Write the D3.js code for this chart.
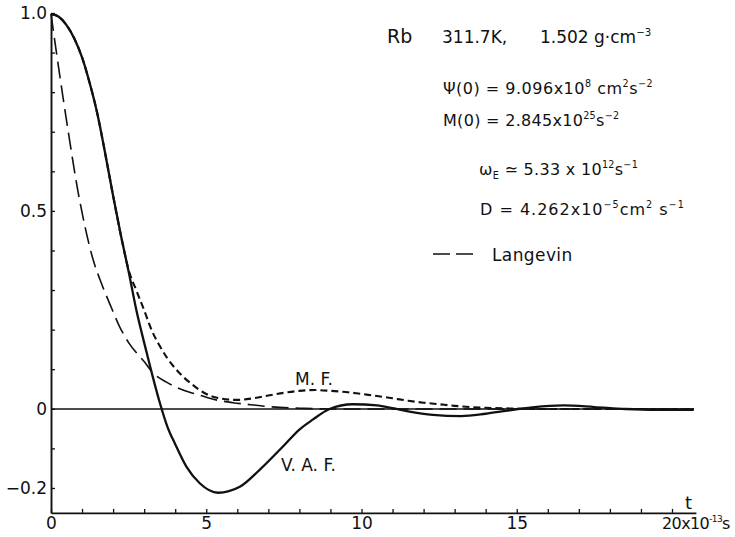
<!DOCTYPE html>
<html>
<head>
<meta charset="utf-8">
<script src="https://cdn.jsdelivr.net/npm/d3@7"></script>
<style>
  html, body { margin: 0; padding: 0; background: #fff; }
  svg { display: block; }
  text { font-family: "DejaVu Sans", sans-serif; fill: #111; }
</style>
</head>
<body>
<svg id="chart" width="735" height="537"></svg>
<script>
// Velocity autocorrelation function (V.A.F.) of liquid Rb, time in 10^-13 s
const tVaf = [0, 0.25, 0.5, 0.75, 1.0, 1.25, 1.5, 1.75, 2.0, 2.25, 2.5, 2.75, 3.0, 3.25, 3.5, 3.75, 4.0,
              4.36, 4.79, 5.38, 6.08, 6.72, 7.47, 8.0, 8.43, 8.97, 9.72, 10.5, 11.0, 11.5, 12.3, 13.2,
              14.0, 14.7, 15.5, 16.5, 17.5, 18.5, 19.5, 20.7];
const vaf  = [1.0, 0.993, 0.972, 0.938, 0.89, 0.824, 0.745, 0.645, 0.54, 0.44, 0.348, 0.25, 0.168, 0.09, 0.017, -0.045, -0.089,
              -0.146, -0.188, -0.212, -0.197, -0.154, -0.095, -0.052, -0.027, 0.0, 0.012, 0.009, 0.002, -0.006, -0.015, -0.018,
              -0.012, -0.004, 0.004, 0.009, 0.005, 0.0, -0.002, -0.002];

// Memory function (M.F.)
const tMf = [0, 0.25, 0.5, 0.75, 1.0, 1.25, 1.5, 1.75, 2.0, 2.25, 2.5, 2.75, 3.0, 3.25, 3.5, 3.75, 4.0, 4.25, 4.5,
             5.0, 5.5, 6.0, 6.5, 7.0, 7.5, 8.0, 8.5, 9.0, 9.5, 10.0, 10.5, 11.0, 11.5, 12.0, 12.5, 13.0, 13.5,
             14.0, 15.0, 16.0, 18.0, 20.7];
const mf  = [1.0, 0.993, 0.972, 0.938, 0.89, 0.824, 0.745, 0.645, 0.54, 0.44, 0.352, 0.30, 0.25, 0.198, 0.16, 0.128, 0.103, 0.082, 0.065,
             0.038, 0.026, 0.023, 0.027, 0.034, 0.041, 0.046, 0.048, 0.046, 0.043, 0.038, 0.033, 0.027, 0.021, 0.016, 0.012, 0.008, 0.005,
             0.003, 0.001, 0.0, 0.0, 0.0];

// Langevin (exponential) model
const tLang = [0, 0.29, 0.56, 0.88, 1.1, 1.36, 1.58, 1.9, 2.2, 2.5, 3.0, 3.3, 3.72, 4.25, 4.79, 5.11, 5.86, 6.3, 7.36, 8.0, 9.0, 20.7];
const lang  = [1.0, 0.84, 0.70, 0.546, 0.46, 0.377, 0.327, 0.265, 0.21, 0.168, 0.12, 0.09, 0.068, 0.048, 0.035, 0.027, 0.016, 0.012, 0.004, 0.002, 0.0, 0.0];

// Axis ticks and labels
const xTicks = d3.range(0, 21);
const xLabels = {0: "0", 5: "5", 10: "10", 15: "15"};
const yTicks = d3.range(-2, 11).map(i => i / 10);
const yLabels = {"1": "1.0", "0.5": "0.5", "0": "0", "-0.2": "\u22120.2"};

const tEnd = 20.77;   // right end of the time axis
const vBottom = -0.263;

const svg = d3.select("#chart");
const x = d3.scaleLinear().domain([0, 20]).range([51, 672]);
const y = d3.scaleLinear().domain([0, 1]).range([409, 14]);

// Time axis
const xAxisScale = x.copy().domain([0, tEnd]).range([x(0), x(tEnd)]);
const gx = svg.append("g")
  .attr("transform", `translate(0,${y(vBottom)})`)
  .call(d3.axisBottom(xAxisScale)
    .tickValues(xTicks)
    .tickSize(-4)
    .tickSizeOuter(0)
    .tickPadding(4)
    .tickFormat(d => xLabels[d] || ""));

// Ordinate axis
const yAxisScale = y.copy().domain([vBottom, 1]).range([y(vBottom), y(1) - 1]);
const gy = svg.append("g")
  .attr("transform", `translate(${x(0)},0)`)
  .call(d3.axisLeft(yAxisScale)
    .tickValues(yTicks)
    .tickSize(-4)
    .tickSizeOuter(0)
    .tickPadding(4)
    .tickFormat(d => yLabels[String(Math.round(d * 10) / 10)] || ""));

[gx, gy].forEach(g => {
  g.attr("font-family", null).attr("font-size", null);
  g.select(".domain").attr("stroke", "#111").attr("stroke-width", 1.9);
  g.selectAll(".tick line").attr("stroke", "#111").attr("stroke-width", 1.3);
  g.selectAll(".tick text").style("font-size", "17px").attr("fill", "#111");
});

// zero baseline
svg.append("line")
  .attr("x1", x(0)).attr("x2", x(20.7))
  .attr("y1", y(0)).attr("y2", y(0))
  .attr("stroke", "#111").attr("stroke-width", 1.4);

const line = d3.line()
  .x(d => x(d[0]))
  .y(d => y(d[1]))
  .curve(d3.curveMonotoneX);

svg.append("path")
  .datum(d3.zip(tLang, lang))
  .attr("d", line)
  .attr("fill", "none").attr("stroke", "#111")
  .attr("stroke-width", 1.6).attr("stroke-dasharray", "17,7");

svg.append("path")
  .datum(d3.zip(tVaf, vaf))
  .attr("d", line)
  .attr("fill", "none").attr("stroke", "#111")
  .attr("stroke-width", 2.3);

svg.append("path")
  .datum(d3.zip(tMf, mf))
  .attr("d", line)
  .attr("fill", "none").attr("stroke", "#111")
  .attr("stroke-width", 2.1).attr("stroke-dasharray", "7,4");

// Text with superscripts / subscripts: segments are [string, kind]
function richText(px, py, size, segs, spacing) {
  const t = svg.append("text").attr("x", px).attr("y", py).style("font-size", size + "px");
  if (spacing) t.style("letter-spacing", spacing + "px");
  let shift = 0;
  segs.forEach(([s, kind, fsOverride]) => {
    let target = 0, fs = size;
    if (kind === "sup") { target = -size * 0.42; fs = size * 0.6; }
    if (kind === "sub") { target = size * 0.25; fs = size * 0.6; }
    if (fsOverride) fs = fsOverride;
    t.append("tspan").attr("dy", target - shift).style("font-size", fs + "px").text(s);
    shift = target;
  });
  return t;
}

// axis end labels
svg.append("text").attr("x", 685).attr("y", 509).style("font-size", "18px").text("t");
richText(662, 529, 16, [["20x10"], ["-13", "sup", 9], ["s"]], -0.6);

// curve annotations
svg.append("text").attr("x", 295).attr("y", 385).style("font-size", "17px").text("M. F.");
svg.append("text").attr("x", 281).attr("y", 471).style("font-size", "17px").text("V. A. F.");

// parameters block
svg.append("text").attr("x", 387).attr("y", 43).style("font-size", "19px").text("Rb");
svg.append("text").attr("x", 442).attr("y", 43).style("font-size", "17px").text("311.7K,");
richText(540, 43, 17, [["1.502 g\u00b7cm"], ["\u22123", "sup"]]);
richText(443, 94, 16, [["\u03a8(0) = 9.096x10"], ["8", "sup"], [" cm"], ["2", "sup"], ["s"], ["\u22122", "sup"]], 0.5);
richText(443, 126, 16, [["M(0) = 2.845x10"], ["25", "sup"], ["s"], ["\u22122", "sup"]], 0.3);
richText(479, 175, 16, [["\u03c9"], ["E", "sub"], [" \u2243 5.33 x 10"], ["12", "sup"], ["s"], ["\u22121", "sup"]], 0.3);
richText(480, 215, 16, [["D = 4.262x10"], ["\u22125", "sup"], ["cm"], ["2", "sup"], [" s"], ["\u22121", "sup"]], 1.0);

// legend
svg.append("line")
  .attr("x1", 433).attr("x2", 478).attr("y1", 254).attr("y2", 254)
  .attr("stroke", "#111").attr("stroke-width", 1.6).attr("stroke-dasharray", "17,6");
svg.append("text").attr("x", 492).attr("y", 261).style("font-size", "17px").style("letter-spacing", "0.4px").text("Langevin");
</script>
</body>
</html>
